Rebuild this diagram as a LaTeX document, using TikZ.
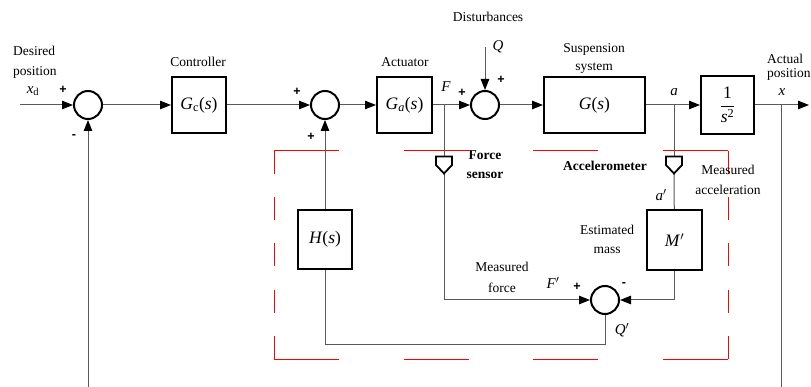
\documentclass[tikz,border=0pt]{standalone}
\usepackage{amsmath}
\usepackage{fontspec}
\setmainfont{Liberation Serif}
\newfontfamily\sgnfont{Liberation Sans}
\usetikzlibrary{arrows.meta}
\begin{document}
\begin{tikzpicture}[x=1pt,y=-1pt,
  blk/.style={draw=black, line width=2pt, inner sep=0pt, font=\fontsize{17.5}{19}\selectfont},
  sumc/.style={circle, draw=black, line width=2pt, minimum size=28pt, inner sep=0pt},
  conn/.style={draw=black!65, line width=1pt},
  arr/.style={-{Triangle[length=11pt,width=8.5pt,color=black]}},
  sgn/.style={font=\sgnfont\bfseries\fontsize{12.5}{13}\selectfont, inner sep=0pt},
  lbl/.style={font=\fontsize{13.5}{16}\selectfont, inner sep=0pt},
  bl/.style={font=\bfseries\fontsize{13.5}{16}\selectfont, inner sep=0pt},
  mth/.style={font=\itshape\fontsize{15}{17}\selectfont, inner sep=0pt},
  sensor/.style={minimum width=16pt, minimum height=17pt, inner sep=0pt, outer sep=0pt},
  sensorshape/.style={draw=black, line width=1.8pt, fill=white, line join=miter},
  redd/.style={draw=red, line width=1pt},
]
\useasboundingbox (0,0) rectangle (811,387);

% red dashed boundary
\draw[redd, dash pattern=on 64.86pt off 64.86pt] (274,151) -- (728,151);
\draw[redd, dash pattern=on 64.86pt off 64.86pt] (274,359) -- (728,359);
\draw[redd, dash pattern=on 23.1pt off 23.1pt] (274,151) -- (274,359);
\draw[redd, dash pattern=on 23.1pt off 23.1pt] (728,151) -- (728,359);

% blocks and junctions
\coordinate (in) at (20,105);
\node[sumc] (s1) at (88,105) {};
\node[blk, minimum width=54pt, minimum height=56pt] (gc) at (199,105) {\textit{G}\textsubscript{c}(\textit{s})};
\node[sumc] (s2) at (325,105) {};
\node[blk, minimum width=55pt, minimum height=56pt] (ga) at (404.5,105) {\textit{G\textsubscript{a}}(\textit{s})};
\coordinate (fj) at (444,105);
\node[sumc] (s3) at (485,105) {};
\node[blk, minimum width=101pt, minimum height=56pt] (g) at (594.5,105) {\textit{G}(\textit{s})};
\coordinate (aj) at (674,105);
\node[blk, minimum width=53pt, minimum height=58pt] (is) at (727.5,105) {$\dfrac{\textrm{1}}{\textit{s}^{\textrm{2}}}$};
\coordinate (xj) at (781,105);
\coordinate (out) at (809,105);
\coordinate (xb) at (781,387);
\coordinate (fbb) at (88,387);
\coordinate (qt) at (485,47);

\node[sensor] (fs) at (444,165) {};
\node[sensor] (as) at (674,165) {};
\node[blk, minimum width=54pt, minimum height=59pt] (h) at (325,239.5) {\textit{H}(\textit{s})};
\node[blk, minimum width=55pt, minimum height=60pt] (m) at (674.5,240) {\textit{M\/}$'$};
\node[sumc] (s4) at (605,300) {};
\coordinate (qb) at (605,344);

% connectors
\draw[conn,arr] (in) -- (s1);
\draw[conn,arr] (s1) -- (gc);
\draw[conn,arr] (gc) -- (s2);
\draw[conn,arr] (s2) -- (ga);
\draw[conn,arr] (ga) -- (s3);
\draw[conn,arr] (s3) -- (g);
\draw[conn,arr] (g) -- (is);
\draw[conn,arr] (is) -- (out);
\draw[conn] (xj) -- (xb);
\draw[conn,arr] (fbb) -- (s1);
\draw[conn,arr] (qt) -- (s3);
\draw[conn,arr] (h) -- (s2);
\draw[conn] (fj) -- (fs.north);
\draw[conn,arr] (fs.south) |- (s4);
\draw[conn] (aj) -- (as.north);
\draw[conn] (as.south) -- (m);
\draw[conn,arr] (m) |- (s4);
\draw[conn] (s4) -- (qb) -| (h);

% sensors
\draw[sensorshape] (fs.north west) -- (fs.north east) -- (fs.east) -- (fs.south) -- (fs.west) -- cycle;
\draw[sensorshape] (as.north west) -- (as.north east) -- (as.east) -- (as.south) -- (as.west) -- cycle;

% labels
\node[lbl, anchor=west] (t1) at (13,51) {Desired};
\node[lbl, anchor=west] (t2) at (13,72) {position};
\node[mth] (t3) at (33,91) {\textit{x}\textsubscript{\upshape d}};
\node[sgn] (p1) at (63,90) {+};
\node[sgn] (m1) at (74,137) {-};
\node[lbl] (t4) at (198,62) {Controller};
\node[sgn] (p2) at (297,92) {+};
\node[sgn] (p3) at (311,137) {+};
\node[lbl] (t5) at (405,62) {Actuator};
\node[mth] (t6) at (446,87) {F};
\node[sgn] (p4) at (462,93) {+};
\node[sgn] (p5) at (501,80) {+};
\node[mth] (t7) at (498,47) {Q};
\node[lbl] (t8) at (488,17) {Disturbances};
\node[lbl] (t9) at (594,49) {Suspension};
\node[lbl] (t10) at (594,68) {system};
\node[mth] (t11) at (674,92) {a};
\node[mth] (t12) at (782,92) {x};
\node[lbl] (t13) at (785,59) {Actual};
\node[lbl, anchor=west] (t14) at (767,74) {position};
\node[bl] (t15) at (485,155) {Force};
\node[bl] (t16) at (485,175) {sensor};
\node[bl] (t17) at (605,166) {Accelerometer};
\node[lbl] (t18) at (728,170) {Measured};
\node[lbl] (t19) at (728,190) {acceleration};
\node[mth] (t20) at (661,195) {a$'$};
\node[lbl] (t21) at (607,230) {Estimated};
\node[lbl] (t22) at (607,250) {mass};
\node[lbl] (t23) at (502,267) {Measured};
\node[lbl] (t24) at (502,288) {force};
\node[mth] (t25) at (553,283) {F$'$};
\node[sgn] (p6) at (577,287) {+};
\node[sgn] (m2) at (624,285) {-};
\node[mth] (t26) at (622,330) {Q$'$};
\end{tikzpicture}
\end{document}
